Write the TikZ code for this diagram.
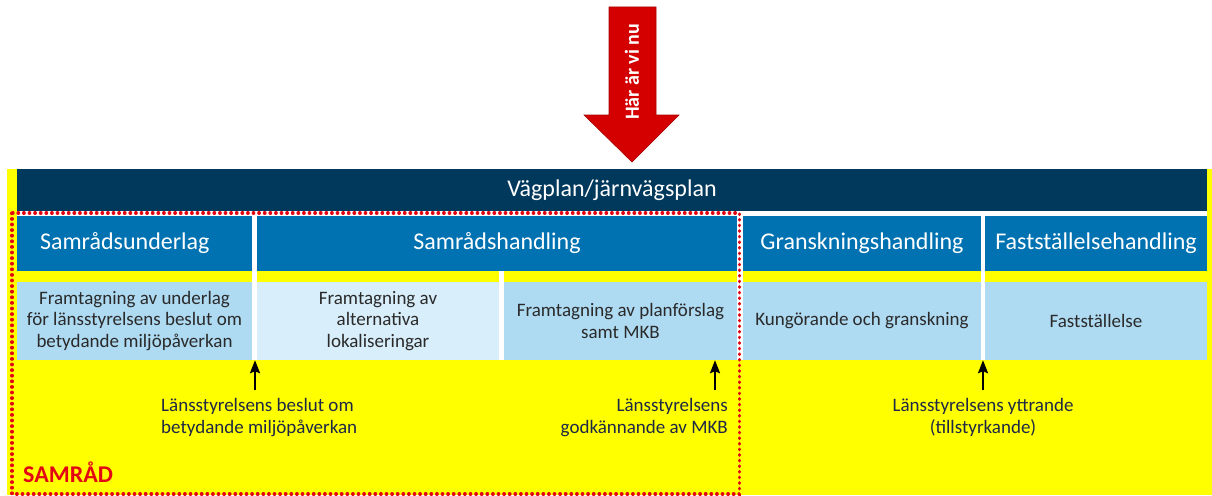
\documentclass[tikz,border=0pt]{standalone}
\usepackage{fontspec}
\setmainfont{Carlito}
\usetikzlibrary{arrows.meta}
\definecolor{ybg}{HTML}{FFFF00}
\definecolor{navy}{HTML}{00395C}
\definecolor{hblue}{HTML}{0072B1}
\definecolor{lblue}{HTML}{AEDAF2}
\definecolor{llblue}{HTML}{D8EEFA}
\definecolor{dred}{HTML}{E30613}
\definecolor{arrred}{HTML}{D40000}
\definecolor{arrredd}{HTML}{A80000}
\definecolor{bodytxt}{HTML}{2A2A2A}
\definecolor{notetxt}{HTML}{1E2846}
\begin{document}
\begin{tikzpicture}[x=1pt,y=-1pt,
  navybar/.style={fill=navy,text=white,inner sep=0,minimum width=1190,minimum height=42,font=\fontsize{24}{28}\selectfont},
  hdr/.style={fill=hblue,text=white,inner sep=0,minimum height=55,font=\fontsize{24}{28}\selectfont},
  stepbox/.style={fill=lblue,text=bodytxt,inner sep=0,minimum height=78,align=center,font=\fontsize{19}{21.7}\selectfont},
  note/.style={text=notetxt,inner sep=0,font=\fontsize{19}{21.5}\selectfont},
  uparrow/.style={draw=black,line width=2.2pt,-{Stealth[length=13pt,width=10pt,inset=2pt]}},
  samrad/.style={draw=dred,line width=3.2pt,dash pattern=on 0.6pt off 5pt,line cap=round}]
\useasboundingbox (0,0) rectangle (1212,495);
\fill[white] (0,0) rectangle (1212,495);
\fill[ybg] (7,169) rectangle (1212,495);
% top bar
\node[navybar] (plan) at (612,190) {Vägplan/järnvägsplan};
\fill[white] (17,211) rectangle (1207,360);
% headers
\node[hdr,minimum width=235,text width=189,inner xsep=23,align=left] (h1) at (134.5,243.5) {Samrådsunderlag};
\node[hdr,minimum width=480] (h2) at (497,243.5) {Samrådshandling};
\node[hdr,minimum width=238] (h3) at (862,243.5) {Granskningshandling};
\node[hdr,minimum width=222] (h4) at (1096,243.5) {Fastställelsehandling};
% yellow band
\fill[ybg] (17,271) rectangle (252,282);
\fill[ybg] (257,271) rectangle (499,282);
\fill[ybg] (504,271) rectangle (737,282);
\fill[ybg] (743,271) rectangle (981,282);
\fill[ybg] (985,271) rectangle (1207,282);
% step boxes
\node[stepbox,minimum width=235] (b1) at (134.5,321) {Framtagning av underlag\\för länsstyrelsens beslut om\\betydande miljöpåverkan};
\node[stepbox,fill=llblue,minimum width=242] (b2) at (378,321) {Framtagning av\\alternativa\\lokaliseringar};
\node[stepbox,minimum width=233] (b3) at (620.5,321) {Framtagning av planförslag\\samt MKB};
\node[stepbox,minimum width=238] (b4) at (862,321) {Kungörande och granskning};
\node[stepbox,minimum width=222] (b5) at (1096,321) {Fastställelse};
% samråd region
\draw[samrad] (12,213) rectangle (739.5,494);
\node[text=dred,inner sep=0,anchor=base west,font=\fontsize{24}{26}\selectfont\bfseries] (samradlabel) at (23,482) {SAMRÅD};
% decision arrows
\coordinate (s1) at (255,390);
\coordinate (s2) at (715,390);
\coordinate (s3) at (983,390);
\draw[uparrow] (s1) -- (s1 |- b1.south);
\draw[uparrow] (s2) -- (s2 |- b3.south);
\draw[uparrow] (s3) -- (s3 |- b4.south);
\node[note,anchor=west,align=left] (n1) at (161,417.5) {Länsstyrelsens beslut om\\betydande miljöpåverkan};
\node[note,anchor=east,align=right] (n2) at (728,417.5) {Länsstyrelsens\\godkännande av MKB};
\node[note,align=center] (n3) at (983,417.5) {Länsstyrelsens yttrande\\(tillstyrkande)};
% "we are here" arrow
\draw[fill=arrred,draw=arrredd,line width=0.6pt] (609,7) -- (656,7) -- (656,115) -- (679,115) -- (632,162) -- (584,115) -- (609,115) -- cycle;
\node[text=white,inner sep=0,rotate=90,font=\fontsize{20}{22}\selectfont\bfseries] (here) at (632,72) {Här är vi nu};
\end{tikzpicture}
\end{document}
